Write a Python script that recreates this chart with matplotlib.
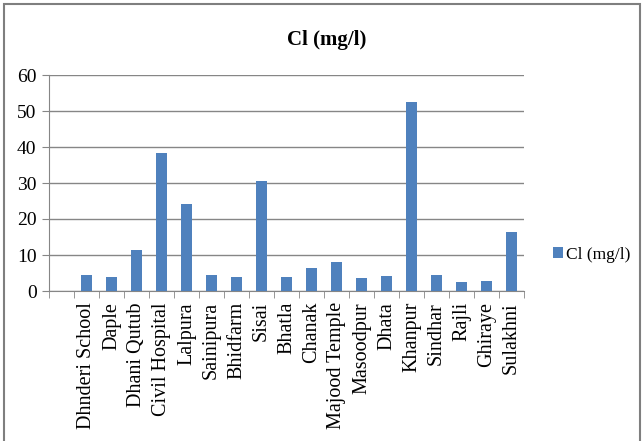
import numpy as np
import matplotlib.pyplot as plt
from matplotlib.patches import Rectangle

sites = ["Dhnderi School", "Daple", "Dhani Qutub", "Civil Hospital", "Lalpura",
         "Sainipura", "Bhidfarm", "Sisai", "Bhatla", "Chanak", "Majood Temple",
         "Masoodpur", "Dhata", "Khanpur", "Sindhar", "Rajli", "Ghiraye", "Sulakhni"]
chloride = [4.5, 3.9, 11.3, 38.4, 24.2, 4.5, 3.9, 30.5, 3.9, 6.4, 8.1,
            3.7, 4.2, 52.5, 4.5, 2.5, 2.8, 16.5]
y_ticks = [0, 10, 20, 30, 40, 50, 60]

plt.rcParams['font.family'] = ['Liberation Serif', 'DejaVu Serif']

fig = plt.figure(figsize=(6.43, 4.41), dpi=100)
ax = fig.add_axes([49 / 643, 1 - 291 / 441, (524 - 49) / 643, (291 - 75) / 441])

# first slot on the category axis is left blank
pos = np.arange(1, len(sites) + 1)
ax.bar(pos, chloride, width=0.42, color="#4F81BD", label="Cl (mg/l)", zorder=3)

ax.set_xlim(-0.5, len(sites) + 0.5)
ax.set_ylim(0, 60)
ax.set_yticks(y_ticks)
ax.tick_params(axis="y", labelsize=14, length=5, color="#868686", pad=4)
ax.yaxis.grid(True, color="#868686", linewidth=1, zorder=0)

ax.set_xticks(pos)
ax.set_xticklabels(sites, rotation=90, fontsize=14.5)
ax.tick_params(axis="x", which="major", length=0, pad=8)
ax.set_xticks(np.arange(-0.5, len(sites) + 1), minor=True)
ax.tick_params(axis="x", which="minor", length=5, color="#868686")

for side in ["top", "right"]:
    ax.spines[side].set_visible(False)
for side in ["left", "bottom"]:
    ax.spines[side].set_color("#868686")

fig.text(327 / 643, 1 - 40 / 441, "Cl (mg/l)", fontsize=15, fontweight="bold",
         ha="center", va="center")

fig.legend(loc="center left", bbox_to_anchor=(537 / 643, 1 - 255 / 441),
           frameon=False, fontsize=12.5, handlelength=0.6, handleheight=0.6,
           handletextpad=0.15)

fig.patches.append(Rectangle((4 / 643, -0.01), 636 / 643, 1 - 4 / 441 + 0.01,
                             transform=fig.transFigure, fill=False,
                             edgecolor="#7f7f7f", linewidth=1.5))

fig.savefig("out.png", dpi=100)
